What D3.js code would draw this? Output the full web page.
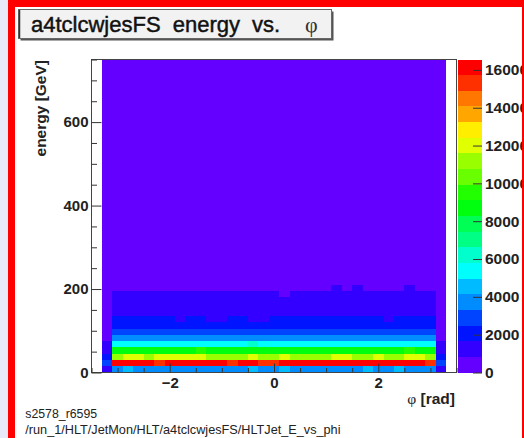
<!DOCTYPE html>
<html><head><meta charset="utf-8">
<script src="https://cdn.jsdelivr.net/npm/d3@7"></script>
<style>body{margin:0;background:#e8e8f8;overflow:hidden}svg{display:block}</style>
</head><body><svg id="c" width="524" height="438"></svg>
<script>
// ---------------- data ----------------
const titleMain = "a4tclcwjesFS energy vs.";
const titlePhi = "φ";
const yTitle = "energy [GeV]";
const xTitleUnit = " [rad]";
const footer1 = "s2578_r6595";
const footer2 = "/run_1/HLT/JetMon/HLT/a4tclcwjesFS/HLTJet_E_vs_phi";

const phiMin = -3.5, phiMax = 3.5, phiBinWidth = 0.2;   // 35 phi bins
const eMin = 0, eMax = 750, eBinWidth = 15;             // 50 energy bins
const xMajorTicks = [-2, 0, 2];
const xMinorStep = 0.5;
const yMajorTicks = [0, 200, 400, 600];
const yMinorStep = 50;
const zTicks = [0, 2000, 4000, 6000, 8000, 10000, 12000, 14000, 16000];
const nContours = 20;

// counts per phi bin for -3.3 .. 3.3 (33 bins); outermost bins (-3.5..-3.3, 3.3..3.5) are empty
const e0_15    = [1300,3850,4450,3900,3820,3880,3790,3860,3910,3840,3870,3800,3930,3880,4390,3850,3900,4420,3870,3830,3890,3860,3920,3850,3880,4410,3840,3900,4430,3870,3810,3890,1250];
const e15_30   = [2900,16050,16180,16220,15980,15450,16100,16250,16080,16150,16300,16020,15380,16120,16200,15500,15420,16060,16230,16110,16550,16170,16090,16260,16140,16030,16190,16080,16210,16120,15990,15460,2600];
const e30_45   = [2100,11250,11900,11850,11300,11950,11880,12000,11920,11860,11200,11150,11350,11280,11900,11220,11300,11870,11180,11260,11330,11210,11950,11890,11240,11300,11910,11190,11270,11980,11870,11230,2000];
const e45_60   = [1250,8700,8650,8780,8720,8690,8810,8740,8660,9350,8750,8700,8680,8790,8730,8710,8760,8690,8820,8700,8740,8680,8770,8720,8690,8800,8710,8750,8660,9380,8730,8700,1180];
const e60_75   = [1000,5420,5380,5450,5400,5360,5470,5410,5390,5440,5380,5420,5460,5400,5950,5430,5390,5410,5450,5370,5420,5400,5460,5390,5430,5410,5380,5440,5400,5420,5390,5450,980];
const e75_90   = [520,3650,3700,3620,3680,3640,3710,3660,3630,3690,3650,3720,3640,3670,3700,3610,3680,3660,3640,3700,3650,3690,3620,3670,3710,3640,3660,3690,3630,3680,3650,3700,480];
const e90_105  = [340,2880,2920,2860,2940,2900,2870,2930,2890,2910,2850,2950,2880,2900,2920,2870,2890,2940,2860,2910,2900,2880,2930,2870,2900,2920,2890,2860,2940,2900,2880,2910,320];
const e105_120 = [260,2120,2180,2150,2100,2200,2140,2170,2130,2190,2110,2160,2150,2120,2180,2140,2200,2130,2170,2150,2110,2190,2140,2160,2120,2180,2150,2130,2170,2100,2160,2140,240];
const e120_135 = [210,1850,1880,1820,1860,1900,1840,1560,1870,1830,1580,1540,1880,1850,1570,1550,1860,1820,1890,1840,1870,1830,1860,1900,1850,1820,1880,1560,1840,1870,1830,1860,200];
const e135_150 = [180,1420,1380,1410,1390,1440,1370,1400,1430,1360,1410,1390,1420,1380,1400,1450,1370,1410,1390,1430,1400,1380,1420,1360,1410,1400,1440,1390,1370,1420,1400,1380,170];
const e150_165 = [160,1210,1180,1230,1190,1220,1170,1200,1240,1190,1210,1180,1220,1200,1170,1230,1190,1210,1200,1180,1240,1190,1210,1170,1220,1200,1230,1180,1210,1190,1200,1220,150];
const e165_180 = [140,1050,1020,1060,1030,1070,1010,1040,1060,1030,1050,1020,1070,1040,1010,1050,1030,1060,1040,1020,1050,1070,1030,1040,1060,1020,1050,1040,1030,1060,1010,1050,130];
const e180_195 = [120,900,880,920,890,910,870,930,900,880,910,890,920,870,900,910,880,760,920,890,900,910,880,930,900,870,910,890,920,900,880,910,110];
const e195_210 = [100,640,660,630,670,650,620,680,640,660,650,630,670,640,660,650,680,620,650,660,640,630,870,650,880,660,640,670,650,870,660,640,95];
// approximate count per phi bin for each energy bin from 210 to 750 GeV (uniform purple in the picture)
const tailCounts = [560,480,420,370,320,280,250,220,195,170,150,135,120,105,95,85,76,68,60,54,48,43,38,34,30,27,24,21,19,17,15,13,12,11,10,9];

// ---------------- build table ----------------
const nPhi = Math.round((phiMax - phiMin) / phiBinWidth);
const lowRows = [e0_15,e15_30,e30_45,e45_60,e60_75,e75_90,e90_105,e105_120,e120_135,e135_150,e150_165,e165_180,e180_195,e195_210];
const rows = lowRows.map(r => [0, ...r, 0]).concat(tailCounts.map(v => [0, ...Array(nPhi - 2).fill(v), 0]));
const cells = [];
rows.forEach((r, ie) => r.forEach((v, ip) => {
  cells.push({ e0: eMin + ie * eBinWidth, e1: eMin + (ie + 1) * eBinWidth,
               p0: phiMin + ip * phiBinWidth, p1: phiMin + (ip + 1) * phiBinWidth, v });
}));
const zMax = d3.max(cells, d => d.v);

// ROOT "pretty" palette (50 colours) mapped onto 20 contours
const palette = d3.range(nContours).map(i => {
  const k = Math.floor((i + 0.99) * 50 / nContours);
  const hue = 280 - (k + 1) * 5.6;
  return d3.hsl(hue, 1, 0.5).formatHex();
});
const colorOf = v => palette[Math.min(nContours - 1, Math.floor(v / zMax * nContours))];

// ---------------- drawing ----------------
const svg = d3.select("#c");
const FONT = "'Liberation Sans', Arial, Helvetica, sans-serif";
const SERIF = "'Liberation Serif', 'DejaVu Serif', serif";

svg.append("rect").attr("width", 524).attr("height", 438).attr("fill", "#e8e8f8");
svg.append("rect").attr("x", 15).attr("y", 7).attr("width", 507).attr("height", 431).attr("fill", "#fff");
svg.append("rect").attr("x", 8).attr("y", 0).attr("width", 7).attr("height", 438).attr("fill", "#ff0000");
svg.append("rect").attr("x", 8).attr("y", 0).attr("width", 516).attr("height", 7).attr("fill", "#ff0000");
svg.append("rect").attr("x", 522).attr("y", 0).attr("width", 2).attr("height", 438).attr("fill", "#ff0000");

svg.append("clipPath").attr("id", "inner").append("rect")
  .attr("x", 15).attr("y", 7).attr("width", 507).attr("height", 431);
const g = svg.append("g").attr("clip-path", "url(#inner)");

// title box
g.append("rect").attr("x", 20.5).attr("y", 11.5).attr("width", 313).attr("height", 29).attr("fill", "#555");
g.append("rect").attr("x", 18.5).attr("y", 9.5).attr("width", 313).attr("height", 29)
  .attr("fill", "#f2f2f2").attr("stroke", "#666").attr("stroke-width", 1);
g.append("line").attr("x1", 19.5).attr("x2", 19.5).attr("y1", 10).attr("y2", 38).attr("stroke", "#333").attr("stroke-width", 1.5);
const tt = g.append("text").attr("x", 31).attr("y", 32).attr("font-family", FONT)
  .attr("font-size", 22).attr("fill", "#111").attr("stroke", "#111").attr("stroke-width", 0.45)
  .attr("word-spacing", 6);
tt.append("tspan").text(titleMain);
tt.append("tspan").attr("x", 305).attr("font-family", SERIF).attr("stroke-width", 0).attr("fill", "#333").text(titlePhi);

// scales
const x = d3.scaleLinear().domain([phiMin, phiMax]).range([91.5, 456.5]);
const y = d3.scaleLinear().domain([eMin, eMax]).range([372.5, 59.5]);
const z = d3.scaleLinear().domain([0, zMax]).range([372.5, 59.5]);

// heatmap (empty bins not drawn)
g.append("g").attr("shape-rendering", "crispEdges").selectAll("rect")
  .data(cells.filter(d => d.v > 0)).join("rect")
  .attr("x", d => x(d.p0)).attr("width", d => x(d.p1) - x(d.p0))
  .attr("y", d => y(d.e1)).attr("height", d => y(d.e0) - y(d.e1))
  .attr("fill", d => colorOf(d.v));

// frame
g.append("rect").attr("x", 91.5).attr("y", 59.5).attr("width", 365).attr("height", 313)
  .attr("fill", "none").attr("stroke", "#444").attr("stroke-width", 1);

function styleAxis(sel, size) {
  sel.attr("font-family", FONT).attr("font-size", size).attr("font-weight", "bold");
  sel.select(".domain").remove();
  sel.selectAll(".tick line").attr("stroke", "#333");
  sel.selectAll(".tick text").attr("fill", "#222");
}

// y axis
const yMinor = d3.range(eMin, eMax + 1, yMinorStep).filter(v => !yMajorTicks.includes(v));
g.append("g").attr("transform", "translate(91.5,0)")
  .call(d3.axisLeft(y).tickValues(yMinor).tickSize(-5.5).tickFormat(""))
  .call(s => styleAxis(s, 15));
g.append("g").attr("transform", "translate(91.5,0)")
  .call(d3.axisLeft(y).tickValues(yMajorTicks).tickSize(-10).tickPadding(3).tickFormat(d3.format("d")))
  .call(s => styleAxis(s, 15));

// x axis
const xMinor = d3.range(phiMin, phiMax + 1e-9, xMinorStep).filter(v => !xMajorTicks.some(t => Math.abs(t - v) < 1e-9));
g.append("g").attr("transform", "translate(0,372.5)")
  .call(d3.axisBottom(x).tickValues(xMinor).tickSize(-4.5).tickFormat(""))
  .call(s => styleAxis(s, 15));
g.append("g").attr("transform", "translate(0,372.5)")
  .call(d3.axisBottom(x).tickValues(xMajorTicks).tickSize(-9).tickPadding(5).tickFormat(d3.format("d")))
  .call(s => styleAxis(s, 15));

// axis titles
g.append("text").attr("transform", "translate(45.5,60) rotate(-90)").attr("text-anchor", "end")
  .attr("font-family", FONT).attr("font-size", 15.5).attr("font-weight", "bold").attr("fill", "#222")
  .text(yTitle);
const xt = g.append("text").attr("x", 455).attr("y", 403.5).attr("text-anchor", "end")
  .attr("font-family", FONT).attr("font-size", 15.5).attr("font-weight", "bold").attr("fill", "#222");
xt.append("tspan").attr("font-family", SERIF).attr("font-weight", "normal").text(titlePhi);
xt.append("tspan").text(xTitleUnit);

// colour bar
const levels = d3.range(nContours);
g.append("g").attr("shape-rendering", "crispEdges").selectAll("rect").data(levels).join("rect")
  .attr("x", 458).attr("width", 24)
  .attr("y", i => z((i + 1) * zMax / nContours)).attr("height", i => z(i * zMax / nContours) - z((i + 1) * zMax / nContours))
  .attr("fill", i => palette[i]);
g.append("g").attr("transform", "translate(482,0)")
  .call(d3.axisRight(z).tickValues(zTicks).tickSize(-9).tickPadding(3).tickFormat(d3.format("d")))
  .call(s => styleAxis(s, 15.5));

// footer
g.append("text").attr("x", 25.3).attr("y", 418.3).attr("font-family", FONT).attr("font-size", 12.3)
  .attr("fill", "#222").text(footer1);
g.append("text").attr("x", 25.3).attr("y", 433.5).attr("font-family", FONT).attr("font-size", 12.7)
  .attr("fill", "#222").text(footer2);
</script></body></html>
